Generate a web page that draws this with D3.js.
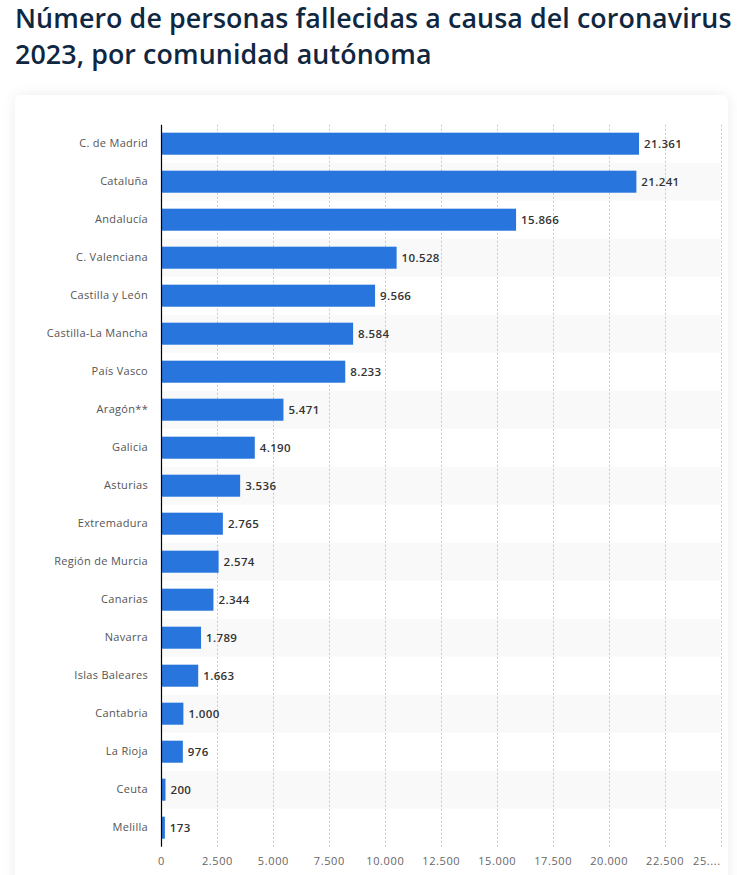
<!DOCTYPE html>
<html>
<head>
<meta charset="utf-8">
<script src="https://cdn.jsdelivr.net/npm/d3@7"></script>
<style>
  body { margin: 0; background: #fff; font-family: "Open Sans", sans-serif; overflow: hidden; }
  .title { position: absolute; left: 15px; top: 0px; margin: 0; font-size: 26.8px; font-weight: 600;
           color: #0f2741; line-height: 36px; letter-spacing: 0.1px; }
  .card { position: absolute; left: 15px; top: 95px; width: 713px; height: 800px; background: #fff;
          border-radius: 6px; box-shadow: 0 0 14px rgba(0, 20, 60, 0.08); }
  svg { position: absolute; left: 0; top: 0; }
</style>
</head>
<body>
<h1 class="title">Número de personas fallecidas a causa del coronavirus<br>2023, por comunidad autónoma</h1>
<div class="card"></div>
<div id="chart"></div>
<script>
const regions = ['C. de Madrid', 'Cataluña', 'Andalucía', 'C. Valenciana', 'Castilla y León',
  'Castilla-La Mancha', 'País Vasco', 'Aragón**', 'Galicia', 'Asturias', 'Extremadura',
  'Región de Murcia', 'Canarias', 'Navarra', 'Islas Baleares', 'Cantabria', 'La Rioja', 'Ceuta', 'Melilla'];
const deaths = [21361, 21241, 15866, 10528, 9566, 8584, 8233, 5471, 4190, 3536, 2765,
  2574, 2344, 1789, 1663, 1000, 976, 200, 173];
const tickValues = [0, 2500, 5000, 7500, 10000, 12500, 15000, 17500, 20000, 22500, 25000];

const W = 737, H = 875;
const plot = { left: 161, right: 720.5, top: 124.7, bottom: 846.7 };

const svg = d3.select('#chart').append('svg')
    .attr('width', W)
    .attr('height', H);

const fmt = d3.formatLocale({ decimal: ',', thousands: '.', grouping: [3], currency: ['', '€'] }).format(',d');

const xScale = d3.scaleLinear()
    .domain([0, 25000])
    .range([plot.left, plot.right]);

const yScale = d3.scaleBand()
    .domain(regions)
    .range([plot.top, plot.bottom])
    .paddingInner(0.42)
    .paddingOuter(0.21);

const band = d3.scaleBand().domain(regions).range([plot.top, plot.bottom]);

// Alternating row stripes
svg.append('g')
    .selectAll('rect')
    .data(regions.filter((d, i) => i % 2 === 1))
    .join('rect')
    .attr('x', plot.left)
    .attr('y', d => band(d))
    .attr('width', plot.right - plot.left)
    .attr('height', band.bandwidth())
    .attr('fill', '#f9f9f9');

// Gridlines
svg.append('g')
    .selectAll('line')
    .data(tickValues.slice(1))
    .join('line')
    .attr('x1', d => Math.round(xScale(d)) + 0.5)
    .attr('x2', d => Math.round(xScale(d)) + 0.5)
    .attr('y1', plot.top)
    .attr('y2', plot.bottom)
    .attr('stroke', '#c8c8c8')
    .attr('stroke-width', 1)
    .attr('stroke-dasharray', '2,2');

// Bars
svg.append('g')
    .selectAll('rect')
    .data(regions)
    .join('rect')
    .attr('x', plot.left)
    .attr('y', d => yScale(d))
    .attr('width', (d, i) => xScale(deaths[i]) - plot.left)
    .attr('height', yScale.bandwidth())
    .attr('fill', '#2876dd');

// Value labels
svg.append('g')
    .selectAll('text')
    .data(regions)
    .join('text')
    .attr('x', (d, i) => xScale(deaths[i]) + 5)
    .attr('y', d => yScale(d) + yScale.bandwidth() / 2)
    .attr('dy', '0.35em')
    .style('font-size', '11.5px')
    .style('font-weight', 600)
    .style('letter-spacing', '0.35px')
    .style('fill', '#333')
    .text((d, i) => fmt(deaths[i]));

// Category axis
const yAxis = svg.append('g')
    .attr('transform', `translate(${plot.left},0)`)
    .call(d3.axisLeft(band).tickSize(0).tickPadding(13));
yAxis.select('.domain').remove();
yAxis.selectAll('text')
    .style('font-family', '"Open Sans", sans-serif')
    .style('font-size', '11px')
    .style('letter-spacing', '0.3px')
    .style('fill', '#555');

svg.append('line')
    .attr('x1', plot.left + 0.5)
    .attr('x2', plot.left + 0.5)
    .attr('y1', plot.top)
    .attr('y2', plot.bottom)
    .attr('stroke', '#000')
    .attr('stroke-width', 1.2);

// Value axis
const xAxis = svg.append('g')
    .attr('transform', `translate(0,${plot.bottom})`)
    .call(d3.axisBottom(xScale)
        .tickValues(tickValues)
        .tickSize(0)
        .tickPadding(11)
        .tickFormat(d => d === 25000 ? '25....' : fmt(d)));
xAxis.select('.domain').remove();
xAxis.selectAll('text')
    .style('font-family', '"Open Sans", sans-serif')
    .style('font-size', '11px')
    .style('letter-spacing', '0.6px')
    .style('fill', '#666');
xAxis.selectAll('.tick')
    .filter(d => d === 25000)
    .select('text')
    .attr('text-anchor', 'start')
    .attr('x', -28);
</script>
</body>
</html>
